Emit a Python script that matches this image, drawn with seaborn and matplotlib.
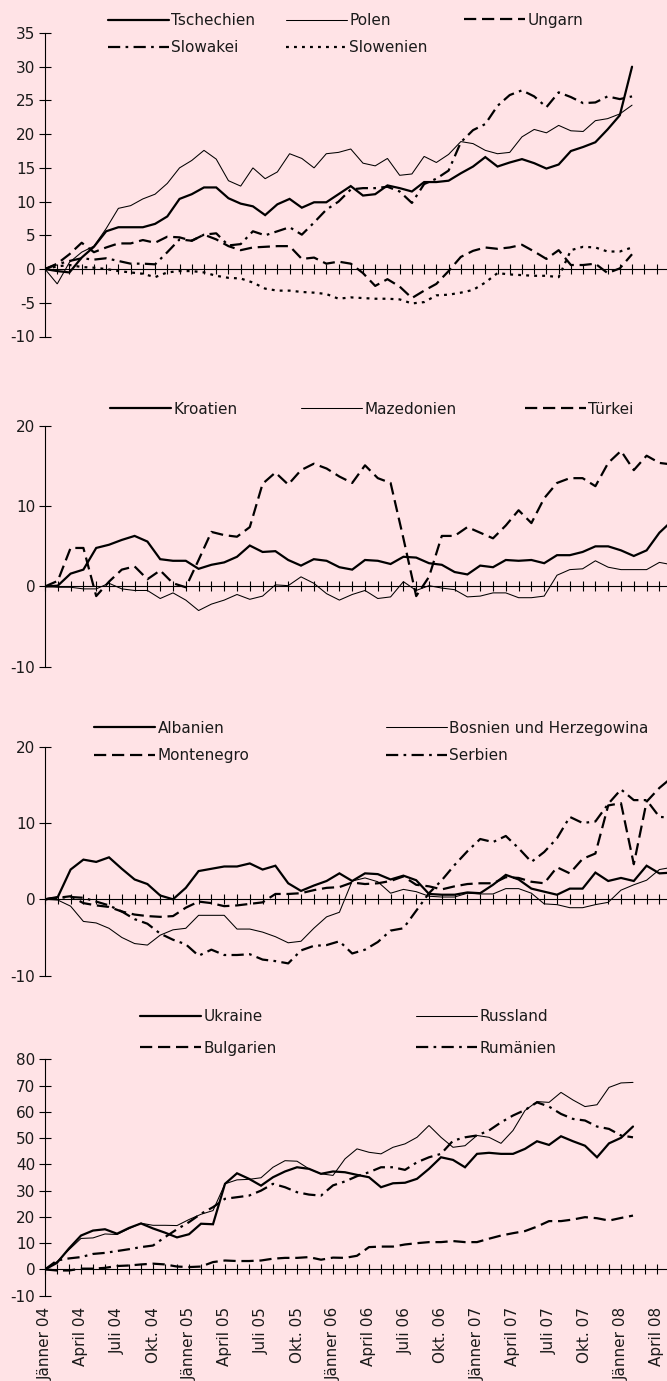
import numpy as np
import pandas as pd
import matplotlib
matplotlib.use("Agg")
import matplotlib.pyplot as plt
from matplotlib.ticker import MultipleLocator
import seaborn as sns

# ---------------- data (monthly, index 0 = Jänner 04) ----------------
tschechien = [0, -0.3, -0.5, 1.7, 3.3, 5.6, 6.2, 6.2, 6.2, 6.7,
              7.8, 10.4, 11.1, 12.1, 12.1, 10.5, 9.7, 9.3, 8.0, 9.6,
              10.4, 9.1, 9.9, 9.9, 11.1, 12.3, 10.9, 11.1, 12.4, 12.0,
              11.5, 12.9, 12.9, 13.1, 14.2, 15.2, 16.6, 15.2, 15.8, 16.3,
              15.7, 14.9, 15.5, 17.5, 18.1, 18.8, 20.7, 22.8, 30.0]
polen = [0, -2.2, 1.0, 2.5, 3.4, 6.0, 9.0, 9.4, 10.4, 11.1,
         12.7, 15.0, 16.1, 17.6, 16.3, 13.1, 12.3, 15.0, 13.4, 14.4,
         17.1, 16.4, 15.0, 17.1, 17.3, 17.8, 15.7, 15.3, 16.4, 13.9,
         14.1, 16.7, 15.8, 17.0, 18.9, 18.6, 17.6, 17.1, 17.3, 19.6,
         20.7, 20.2, 21.3, 20.5, 20.4, 22.0, 22.3, 23.0, 24.3]
ungarn = [0, 0.8, 2.2, 3.9, 2.5, 3.2, 3.8, 3.8, 4.3, 3.9,
          4.8, 4.7, 4.2, 5.1, 4.4, 3.4, 2.8, 3.2, 3.3, 3.4,
          3.4, 1.5, 1.7, 0.8, 1.1, 0.8, -0.6, -2.5, -1.5, -2.6,
          -4.3, -3.2, -2.2, -0.3, 1.8, 2.7, 3.2, 3.0, 3.2, 3.6,
          2.6, 1.5, 2.8, 0.6, 0.6, 0.8, -0.6, 0.1, 2.2]
slowakei = [0, 0.7, 1.2, 1.6, 1.4, 1.6, 1.2, 0.8, 0.8, 0.7,
            2.5, 4.4, 4.2, 5.1, 5.3, 3.5, 3.7, 5.6, 5.0, 5.6,
            6.2, 5.1, 6.9, 8.8, 10.0, 11.8, 12.0, 12.0, 12.2, 11.5,
            9.8, 12.6, 13.4, 14.6, 18.8, 20.6, 21.5, 24.2, 25.8, 26.5,
            25.6, 24.0, 26.2, 25.5, 24.6, 24.7, 25.6, 25.2, 25.6]
slowenien = [0, 0.4, 0.6, 0.3, 0.2, 0.0, -0.3, -0.5, -0.7, -1.2,
             -0.5, -0.3, -0.3, -0.5, -1.0, -1.3, -1.4, -2.0, -2.9, -3.2,
             -3.2, -3.4, -3.5, -3.7, -4.4, -4.2, -4.3, -4.4, -4.4, -4.5,
             -5.1, -4.9, -3.9, -3.8, -3.5, -3.1, -2.0, -0.6, -0.8, -0.9,
             -1.0, -1.0, -1.2, 2.8, 3.3, 3.2, 2.6, 2.6, 3.2]

kroatien = [0, 0.1, 1.6, 2.1, 4.8, 5.2, 5.8, 6.3, 5.6, 3.4,
            3.2, 3.2, 2.2, 2.7, 3.0, 3.7, 5.1, 4.3, 4.4, 3.3,
            2.6, 3.4, 3.2, 2.4, 2.1, 3.3, 3.2, 2.8, 3.7, 3.6,
            2.9, 2.7, 1.8, 1.5, 2.6, 2.4, 3.3, 3.2, 3.3, 2.9,
            3.9, 3.9, 4.3, 5.0, 5.0, 4.5, 3.8, 4.5, 6.7, 8.2]
mazedonien = [0, -0.1, -0.1, -0.3, -0.3, 0.4, -0.3, -0.5, -0.5, -1.5,
              -0.8, -1.7, -3.0, -2.2, -1.7, -1.0, -1.6, -1.2, 0.2, 0.1,
              1.2, 0.4, -0.9, -1.7, -1.0, -0.5, -1.5, -1.3, 0.6, -0.5,
              0.1, -0.2, -0.4, -1.3, -1.2, -0.8, -0.8, -1.4, -1.4, -1.2,
              1.4, 2.1, 2.2, 3.2, 2.4, 2.1, 2.1, 2.1, 3.0, 2.7]
tuerkei = [0, 0.7, 4.8, 4.8, -1.2, 0.6, 2.1, 2.5, 0.9, 2.0,
           0.4, -0.1, 3.3, 6.8, 6.4, 6.2, 7.4, 12.8, 14.2, 12.7,
           14.5, 15.3, 14.7, 13.7, 12.9, 15.1, 13.5, 12.9, 6.0, -1.2,
           1.2, 6.3, 6.3, 7.4, 6.7, 6.0, 7.6, 9.5, 7.9, 11.0,
           12.9, 13.5, 13.5, 12.5, 15.4, 16.9, 14.5, 16.3, 15.4, 15.2]

albanien = [0, 0.3, 3.9, 5.2, 4.9, 5.5, 4.0, 2.6, 2.0, 0.5,
            0.0, 1.5, 3.7, 4.0, 4.3, 4.3, 4.7, 3.9, 4.4, 2.1,
            1.1, 1.8, 2.4, 3.4, 2.4, 3.4, 3.3, 2.6, 3.1, 2.5,
            0.7, 0.6, 0.6, 0.9, 0.8, 1.9, 3.2, 2.6, 1.4, 1.0,
            0.6, 1.4, 1.4, 3.5, 2.4, 2.8, 2.4, 4.4, 3.4, 3.5]
bosnien = [0, -0.1, -0.9, -2.9, -3.1, -3.8, -5.0, -5.8, -6.0, -4.7,
           -4.0, -3.8, -2.1, -2.1, -2.1, -3.9, -3.9, -4.3, -4.9, -5.7,
           -5.5, -3.8, -2.3, -1.7, 2.4, 2.8, 2.3, 0.8, 1.3, 1.0,
           0.4, 0.3, 0.3, 0.8, 0.7, 0.7, 1.4, 1.4, 0.8, -0.6,
           -0.7, -1.1, -1.1, -0.7, -0.4, 1.2, 1.9, 2.5, 3.9, 4.2]
montenegro = [0, 0.2, 0.4, -0.5, -0.8, -1.0, -1.6, -2.0, -2.2, -2.3,
              -2.2, -1.1, -0.3, -0.5, -0.9, -0.8, -0.6, -0.4, 0.7, 0.7,
              0.8, 1.2, 1.5, 1.6, 2.2, 2.0, 2.1, 2.4, 3.0, 1.9,
              1.7, 1.3, 1.7, 2.0, 2.1, 2.1, 2.9, 2.8, 2.3, 2.1,
              4.2, 3.4, 5.3, 6.0, 12.3, 12.6, 4.6, 12.8, 14.6, 16.0]
serbien = [0, 0.2, 0.3, 0.2, -0.3, -0.8, -1.6, -2.6, -3.2, -4.5,
           -5.3, -5.9, -7.4, -6.6, -7.3, -7.3, -7.2, -7.9, -8.1, -8.4,
           -6.7, -6.1, -6.0, -5.5, -7.1, -6.6, -5.6, -4.1, -3.8, -1.5,
           0.8, 2.5, 4.5, 6.3, 7.9, 7.5, 8.3, 6.7, 4.9, 6.2,
           8.0, 10.8, 10.0, 10.2, 12.5, 14.4, 13.0, 13.0, 10.8, 10.7]

ukraine = [0, 2.5, 8.0, 12.9, 14.8, 15.3, 13.6, 15.8, 17.5, 15.6,
           14.0, 12.2, 13.4, 17.4, 17.2, 32.6, 36.6, 34.5, 31.9, 35.1,
           37.3, 38.9, 38.3, 36.4, 37.3, 37.0, 36.0, 35.1, 31.3, 32.8,
           33.0, 34.5, 38.3, 42.7, 41.7, 38.9, 44.0, 44.4, 44.0, 44.0,
           45.9, 48.8, 47.4, 50.7, 48.8, 47.1, 42.7, 48.0, 50.1, 54.4]
russland = [0, 3.0, 7.5, 11.8, 12.0, 13.5, 13.3, 15.5, 17.6, 16.8,
            16.8, 16.7, 19.0, 21.0, 22.4, 32.6, 34.1, 34.3, 34.9, 38.9,
            41.4, 41.2, 38.3, 36.4, 35.8, 42.1, 45.9, 44.6, 44.0, 46.5,
            47.8, 50.3, 54.8, 50.3, 46.5, 47.1, 51.0, 50.3, 48.0, 52.9,
            60.5, 63.9, 63.6, 67.4, 64.5, 62.0, 62.7, 69.3, 71.0, 71.2]
bulgarien = [0, -0.4, -0.4, 0.3, 0.3, 0.6, 1.3, 1.5, 1.9, 2.2,
             1.9, 1.1, 0.9, 1.1, 2.8, 3.4, 3.2, 3.2, 3.4, 4.1,
             4.4, 4.4, 4.7, 3.7, 4.5, 4.4, 5.2, 8.5, 8.7, 8.7,
             9.5, 10.0, 10.4, 10.4, 10.8, 10.4, 10.4, 11.7, 12.9, 13.8,
             14.6, 16.3, 18.4, 18.4, 19.0, 19.9, 19.5, 18.6, 19.6, 20.5]
rumaenien = [0, 3.4, 4.2, 4.7, 5.9, 6.3, 7.0, 7.7, 8.5, 9.1,
             12.3, 15.3, 18.0, 21.2, 23.7, 26.9, 27.5, 28.1, 30.0, 32.6,
             31.3, 29.4, 28.5, 28.1, 32.0, 33.5, 35.5, 37.0, 38.9, 38.9,
             37.9, 40.8, 42.7, 44.0, 49.0, 50.3, 51.0, 52.9, 56.0, 58.6,
             60.7, 63.6, 62.0, 59.2, 57.3, 56.7, 54.4, 53.5, 51.0, 50.3]

month_labels = ["Jänner 04", "April 04", "Juli 04", "Okt. 04",
                "Jänner 05", "April 05", "Juli 05", "Okt. 05",
                "Jänner 06", "April 06", "Juli 06", "Okt. 06",
                "Jänner 07", "April 07", "Juli 07", "Okt. 07",
                "Jänner 08", "April 08"]

# ---------------- styling ----------------
sns.set_theme(style="white")
plt.rcParams["font.family"] = ["DejaVu Sans"]
plt.rcParams["axes.unicode_minus"] = False
BG = "#FFE3E6"
INK = "#1a1a1a"
FS = 11

W, H = 667, 1381
fig = plt.figure(figsize=(W / 100, H / 100), dpi=100, facecolor=BG)

STY = {
    "thick": dict(lw=1.6, linestyle="-"),
    "thin": dict(lw=0.75, linestyle="-"),
    "dash": dict(lw=1.6, linestyle=(0, (5.5, 2.6))),
    "dashdot": dict(lw=1.6, linestyle=(0, (5.5, 2.4, 1.2, 2.4))),
    "dot": dict(lw=1.6, linestyle=(0, (1.3, 2.3))),
}


def px_rect(top_px, bottom_px):
    left = 45
    return [left / W, 1 - bottom_px / H, (W - left) / W, (bottom_px - top_px) / H]


def make_panel(top_px, bottom_px, px_per_month, yticks, series, legend_cols,
               lspace, xlabels=False):
    ax = fig.add_axes(px_rect(top_px, bottom_px))
    ax.patch.set_alpha(0)
    handles = {}
    for name, vals, sty in series:
        df = pd.DataFrame({"Monat": np.arange(len(vals)), "Wert": vals})
        sns.lineplot(data=df, x="Monat", y="Wert", ax=ax, color="black",
                     legend=False, **STY[sty])
        line = ax.lines[-1]
        line.set_label(name)
        line.set_solid_joinstyle("miter")
        line.set_dash_capstyle("butt")
        handles[name] = line
    ax.set_xlim(0, (W - 45) / px_per_month)
    ax.set_ylim(yticks[0], yticks[-1])
    ax.set_yticks(yticks)
    ax.set_xlabel("")
    ax.set_ylabel("")
    ax.xaxis.set_major_locator(MultipleLocator(1))
    for s in ("top", "right"):
        ax.spines[s].set_visible(False)
    for s in ("left", "bottom"):
        ax.spines[s].set_linewidth(0.8)
        ax.spines[s].set_color("black")
    ax.spines["bottom"].set_position(("data", 0))
    ax.tick_params(axis="x", direction="inout", length=7, width=0.8,
                   color="black", labelbottom=False, bottom=True)
    ax.tick_params(axis="y", direction="inout", length=8, width=0.8,
                   color="black", labelsize=FS, labelcolor=INK, pad=3, left=True)
    # legends (one per column)
    for x_px, yc_px, names in legend_cols:
        fig.legend(handles=[handles[n] for n in names], labels=names,
                   loc="center left",
                   bbox_to_anchor=(x_px / W, 1 - yc_px / H),
                   frameon=False, fontsize=FS, handlelength=4.0,
                   handletextpad=0.15, borderpad=0, borderaxespad=0,
                   labelspacing=lspace, labelcolor=INK)
    if xlabels:
        sec = ax.secondary_xaxis("bottom")
        sec.set_xticks(np.arange(0, 3 * len(month_labels), 3), month_labels)
        sec.tick_params(length=0, pad=8, labelsize=FS, labelcolor=INK,
                        labelrotation=90)
        sec.spines["bottom"].set_visible(False)
    return ax


make_panel(33, 336.5, 12.23, [-10, -5, 0, 5, 10, 15, 20, 25, 30, 35],
           [("Tschechien", tschechien, "thick"), ("Polen", polen, "thin"),
            ("Ungarn", ungarn, "dash"), ("Slowakei", slowakei, "dashdot"),
            ("Slowenien", slowenien, "dot")],
           [(108, 33.9, ["Tschechien", "Slowakei"]),
            (286, 33.9, ["Polen", "Slowenien"]),
            (464, 20, ["Ungarn"])], 0.79)

make_panel(426, 666.7, 12.8, [-10, 0, 10, 20],
           [("Kroatien", kroatien, "thick"), ("Mazedonien", mazedonien, "thin"),
            ("Türkei", tuerkei, "dash")],
           [(110, 409, ["Kroatien"]), (301, 409, ["Mazedonien"]),
            (525, 409, ["Türkei"])], 0.8)

make_panel(746.7, 975.6, 12.8, [-10, 0, 10, 20],
           [("Albanien", albanien, "thick"),
            ("Bosnien und Herzegowina", bosnien, "thin"),
            ("Montenegro", montenegro, "dash"), ("Serbien", serbien, "dashdot")],
           [(94, 741.7, ["Albanien", "Montenegro"]),
            (386, 741.7, ["Bosnien und Herzegowina", "Serbien"])], 0.81)

make_panel(1059.3, 1295.7, 12.0, [-10, 0, 10, 20, 30, 40, 50, 60, 70, 80],
           [("Ukraine", ukraine, "thick"), ("Russland", russland, "thin"),
            ("Bulgarien", bulgarien, "dash"), ("Rumänien", rumaenien, "dashdot")],
           [(140, 1032.5, ["Ukraine", "Bulgarien"]),
            (416, 1032.5, ["Russland", "Rumänien"])], 1.05,
           xlabels=True)

fig.savefig("out.png", dpi=100, facecolor=BG)
